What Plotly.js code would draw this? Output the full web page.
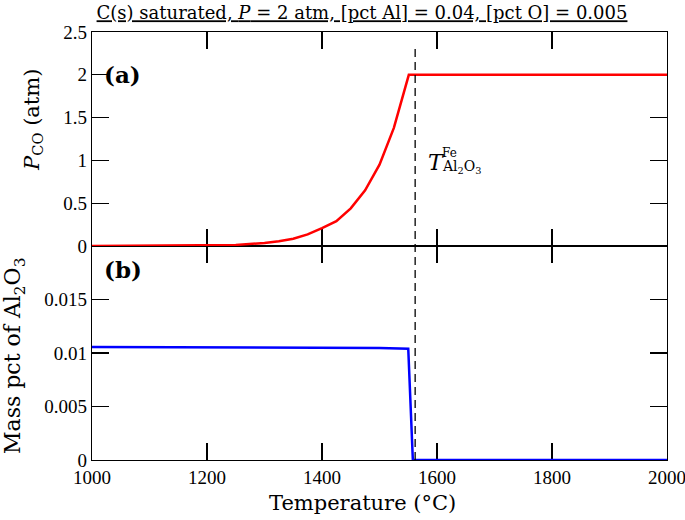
<!DOCTYPE html>
<html>
<head>
<meta charset="utf-8">
<script src="https://cdn.plot.ly/plotly-3.0.1.min.js"></script>
<style>html,body{margin:0;padding:0;background:#fff;}#chart{width:685px;height:520px;}</style>
</head>
<body>
<div id="chart"></div>
<script>
// Temperature (°C) grid and P_CO (atm) values
const tempPco = [1000, 1050, 1100, 1150, 1200, 1250, 1300, 1325, 1350, 1375, 1400, 1425, 1450, 1475, 1500, 1525, 1551, 1600, 1700, 1800, 1900, 2000];
const pco     = [0.000, 0.001, 0.002, 0.004, 0.007, 0.013, 0.035, 0.055, 0.085, 0.135, 0.21, 0.29, 0.44, 0.65, 0.95, 1.38, 2.0, 2.0, 2.0, 2.0, 2.0, 2.0];

// Mass pct of Al2O3
const tempAl2O3 = [1000, 1200, 1400, 1500, 1550, 1558, 1600, 1800, 2000];
const al2o3     = [0.01055, 0.01053, 0.0105, 0.01047, 0.0104, 0.0, 0.0, 0.0, 0.0];

// Fe–Al2O3 transition temperature (dashed line)
const tTransition = 1562;

// Tick labels
const xTicks = [1000, 1200, 1400, 1600, 1800, 2000];
const yTopTicks = [0, 0.5, 1, 1.5, 2, 2.5];
const yTopText = ["0", "0.5", "1", "1.5", "2", "2.5"];
const yBotTicks = [0, 0.005, 0.01, 0.015];
const yBotText = ["0", "0.005", "0.01", "0.015"];

const serif = "Liberation Serif, Times New Roman, serif";
const wide = "DejaVu Serif, serif";
const tickFont = {family: serif, size: 19, color: "#000"};

const traces = [
  {x: tempPco, y: pco, xaxis: "x2", yaxis: "y2", mode: "lines",
   line: {color: "#ff0000", width: 2.5}, showlegend: false, hoverinfo: "skip", cliponaxis: false},
  {x: tempAl2O3, y: al2o3, xaxis: "x", yaxis: "y", mode: "lines",
   line: {color: "#0000ff", width: 2.5}, showlegend: false, hoverinfo: "skip", cliponaxis: false}
];

const axCommon = {
  showgrid: false, zeroline: false, showline: true, linecolor: "#000", linewidth: 1.3,
  mirror: "allticks", ticks: "inside", ticklen: 17, tickwidth: 1.2, tickcolor: "#000",
  tickfont: tickFont, ticklabeloverflow: "allow", layer: "below traces"
};

const layout = {
  width: 685, height: 520,
  margin: {l: 92, r: 18, t: 32, b: 60},
  paper_bgcolor: "#fff", plot_bgcolor: "#fff",
  title: {
    text: "<u>C(s) saturated, <i>P</i> = 2 atm, [pct Al] = 0.04, [pct O] = 0.005</u>",
    font: {family: wide, size: 18, color: "#000"},
    xref: "paper", x: 0.4696, xanchor: "center",
    yref: "container", y: 0.975, yanchor: "middle"
  },
  xaxis: Object.assign({}, axCommon, {
    domain: [0, 1], anchor: "y", range: [1000, 2000],
    tickvals: xTicks, ticktext: xTicks.map(String)
  }),
  xaxis2: Object.assign({}, axCommon, {
    domain: [0, 1], anchor: "y2", range: [1000, 2000], matches: "x",
    tickvals: xTicks, showticklabels: false
  }),
  yaxis: Object.assign({}, axCommon, {
    domain: [0, 0.5], anchor: "x", range: [0, 0.02],
    tickvals: yBotTicks, ticktext: yBotText
  }),
  yaxis2: Object.assign({}, axCommon, {
    domain: [0.5, 1], anchor: "x2", range: [0, 2.5],
    tickvals: yTopTicks, ticktext: yTopText
  }),
  shapes: [
    {type: "line", xref: "x", yref: "paper", x0: tTransition, x1: tTransition, y0: 0, y1: 0.963,
     line: {color: "#000", width: 1.3, dash: "8px,5px"}}
  ],
  annotations: [
    {text: "<b>(a)</b>", xref: "x domain", yref: "y2 domain", x: 0.017, y: 0.8, xanchor: "left", yanchor: "middle",
     showarrow: false, font: {family: wide, size: 23, color: "#000"}},
    {text: "<b>(b)</b>", xref: "x domain", yref: "y domain", x: 0.017, y: 0.89, xanchor: "left", yanchor: "middle",
     showarrow: false, font: {family: wide, size: 23, color: "#000"}},
    {text: "<i>T</i>", xref: "x2", yref: "y2", x: 1580, y: 0.98, xanchor: "left", yanchor: "middle",
     showarrow: false, font: {family: wide, size: 22, color: "#000"}},
    {text: "Fe", xref: "x2", yref: "y2", x: 1605, y: 1.09, xanchor: "left", yanchor: "middle",
     showarrow: false, font: {family: wide, size: 12, color: "#000"}},
    {text: "Al<sub>2</sub>O<sub>3</sub>", xref: "x2", yref: "y2", x: 1605, y: 0.92, xanchor: "left", yanchor: "middle",
     showarrow: false, font: {family: wide, size: 14, color: "#000"}},
    {text: "<i>P</i><sub>CO</sub> (atm)", xref: "paper", yref: "paper", x: -0.103, y: 0.794, textangle: -90,
     xanchor: "center", yanchor: "middle", showarrow: false, font: {family: wide, size: 21, color: "#000"}},
    {text: "Mass pct of Al<sub>2</sub>O<sub>3</sub>", xref: "paper", yref: "paper", x: -0.134, y: 0.243, textangle: -90,
     xanchor: "center", yanchor: "middle", showarrow: false, font: {family: wide, size: 22, color: "#000"}},
    {text: "Temperature (°C)", xref: "paper", yref: "paper", x: 0.4696, y: -0.1, xanchor: "center", yanchor: "middle",
     showarrow: false, font: {family: wide, size: 21, color: "#000"}}
  ]
};

Plotly.newPlot("chart", traces, layout, {displayModeBar: false, staticPlot: true});
</script>
</body>
</html>
